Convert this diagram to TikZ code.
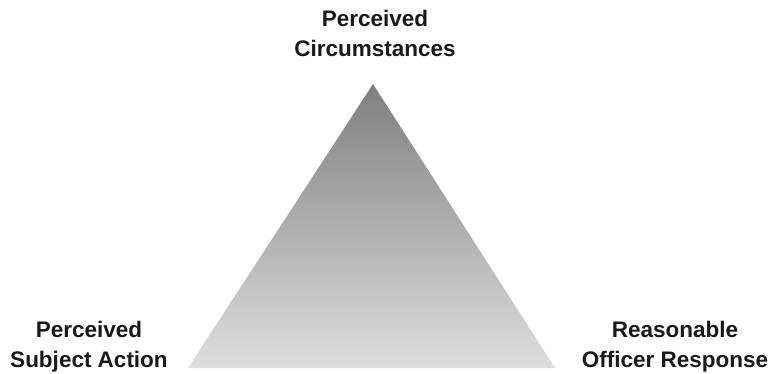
\documentclass[tikz,border=0pt]{standalone}
\usepackage{fontspec}
\setmainfont{Liberation Sans}
\begin{document}
\begin{tikzpicture}[x=1pt,y=-1pt,
  lbl/.style={align=center,font=\fontsize{22.5}{30}\selectfont\bfseries,text=black!90,inner sep=0pt}]
\useasboundingbox (0,0) rectangle (772,373);
\shade[top color=black!50, bottom color=black!13] (373,84) -- (555,368) -- (188,368) -- cycle;
\node[lbl] (top) at (375,33) {Perceived\\Circumstances};
\node[lbl] (left) at (89,347) {Perceived\\Subject Action};
\node[lbl] (right) at (675,347) {Reasonable\\Officer Response};
\end{tikzpicture}
\end{document}
